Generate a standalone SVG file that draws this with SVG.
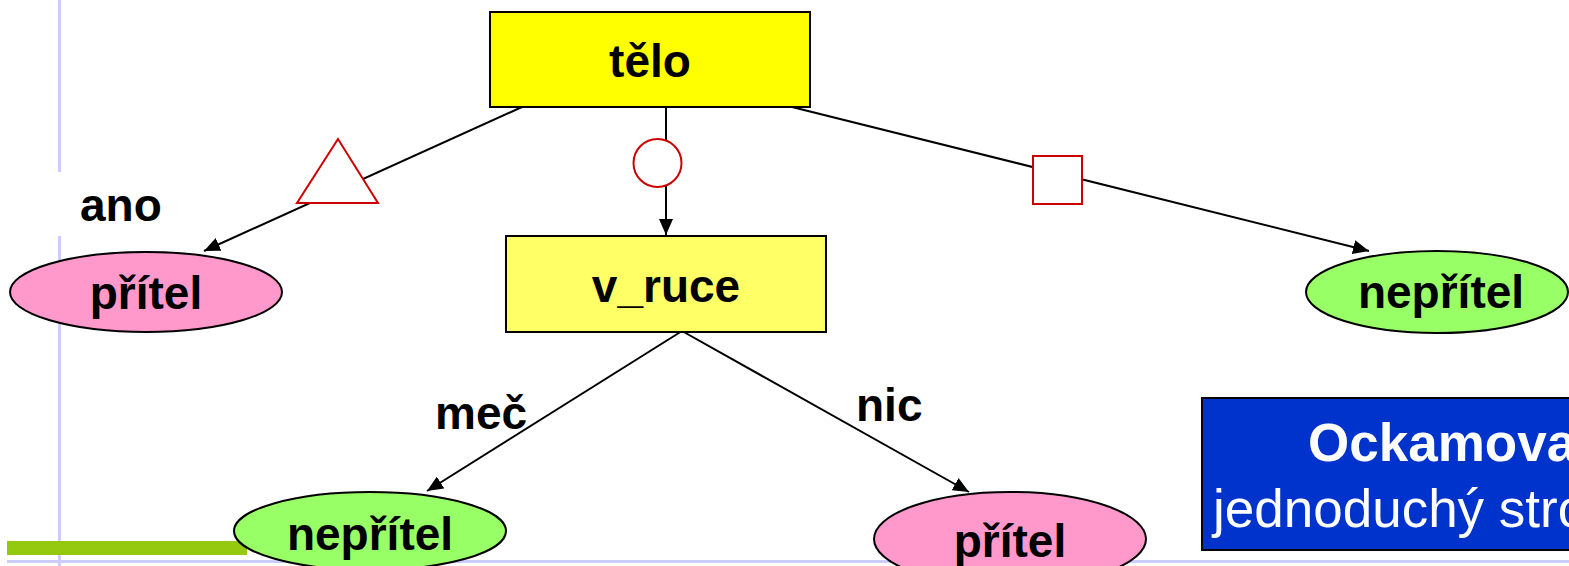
<svg xmlns="http://www.w3.org/2000/svg" width="1569" height="566" viewBox="0 0 1569 566">
<style>
.bg{fill:#ffffff}
.lav{fill:#CCCCFF}
.rect{stroke:#000;stroke-width:2}
.ell{stroke:#000;stroke-width:2}
.lbl{font-family:"Liberation Sans",Arial,sans-serif;font-weight:bold;font-size:46px;fill:#000}
.edge{stroke:#000;stroke-width:2;fill:none}
.mark{fill:#fff;stroke:#CC0000;stroke-width:2}
.tw{font-family:"Liberation Sans",Arial,sans-serif;font-size:53px;fill:#fff}
</style>
<defs>
<marker id="arr" viewBox="0 0 10 10" refX="10" refY="5" markerWidth="9" markerHeight="8" markerUnits="userSpaceOnUse" orient="auto" preserveAspectRatio="none">
<path d="M0,0 L10,5 L0,10 z" fill="#000"/>
</marker>
<marker id="arrow" viewBox="0 0 16 14" refX="16" refY="7" markerWidth="16" markerHeight="14" markerUnits="userSpaceOnUse" orient="auto">
<path d="M0,0 L16,7 L0,14 z" fill="#000"/>
</marker>
</defs>
<rect class="bg" x="0" y="0" width="1569" height="566"/>
<g id="background">
<rect class="lav" x="58" y="0" width="3" height="172"/>
<rect class="lav" x="58" y="236" width="3" height="330"/>
<rect x="7" y="541" width="240" height="14" fill="#94C90F"/>
<rect class="lav" x="7" y="560" width="1562" height="3"/>
</g>
<g id="connectors">
<line class="edge" x1="522" y1="107" x2="204" y2="251" marker-end="url(#arrow)"/>
<line class="edge" x1="666" y1="107" x2="666" y2="235" marker-end="url(#arrow)"/>
<line class="edge" x1="792" y1="107" x2="1369" y2="251" marker-end="url(#arrow)"/>
<line class="edge" x1="682" y1="331" x2="427" y2="491" marker-end="url(#arrow)"/>
<line class="edge" x1="682" y1="331" x2="969" y2="492" marker-end="url(#arrow)"/>
<polygon class="mark" points="338,139 297,203 378,203"/>
<circle class="mark" cx="657.5" cy="163" r="24"/>
<rect class="mark" x="1033" y="156" width="49" height="48"/>
<text class="lbl" x="80" y="221">ano</text>
<text class="lbl" x="435" y="429">meč</text>
<text class="lbl" x="856" y="421">nic</text>
</g>
<g id="telo">
<rect class="rect" x="490" y="12" width="320" height="95" fill="#FFFF00"/>
<text class="lbl" x="650" y="77" text-anchor="middle">tělo</text>
</g>
<g id="v_ruce">
<rect class="rect" x="506" y="236" width="320" height="96" fill="#FFFF66"/>
<text class="lbl" x="666" y="302" text-anchor="middle">v_ruce</text>
</g>
<g id="pritel1">
<ellipse class="ell" cx="146" cy="292" rx="136" ry="40" fill="#FF99CC"/>
<text class="lbl" x="146" y="309" text-anchor="middle">přítel</text>
</g>
<g id="nepritel1">
<ellipse class="ell" cx="1437" cy="292" rx="131" ry="41" fill="#99FF66"/>
<text class="lbl" x="1441" y="308" text-anchor="middle">nepřítel</text>
</g>
<g id="nepritel2">
<ellipse class="ell" cx="370" cy="531" rx="136" ry="39" fill="#99FF66"/>
<text class="lbl" x="370" y="550" text-anchor="middle">nepřítel</text>
</g>
<g id="pritel2">
<ellipse class="ell" cx="1010" cy="539" rx="136" ry="47" fill="#FF99CC"/>
<text class="lbl" x="1010" y="557" text-anchor="middle">přítel</text>
</g>
<g id="ockham">
<rect x="1202" y="398" width="380" height="152" fill="#0033CC" stroke="#000" stroke-width="2"/>
<text class="tw" x="1308" y="461" font-weight="bold">Ockamova</text>
<text class="tw" x="1213" y="527">jednoduchý stro</text>
</g>
</svg>
